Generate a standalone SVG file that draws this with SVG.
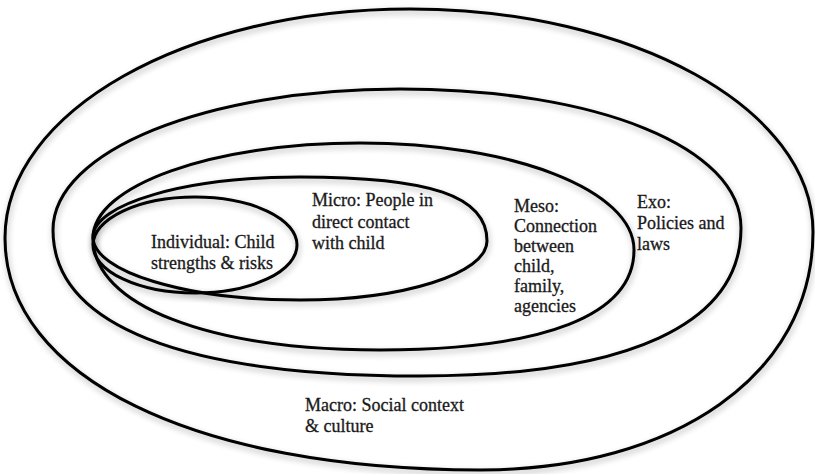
<svg xmlns="http://www.w3.org/2000/svg" width="815" height="474" viewBox="0 0 815 474">
  <defs>
    <filter id="sh" x="-10%" y="-10%" width="120%" height="120%">
      <feGaussianBlur in="SourceAlpha" stdDeviation="3" result="b"/>
      <feOffset in="b" dx="1" dy="3" result="o"/>
      <feComponentTransfer in="o" result="s"><feFuncA type="linear" slope="0.3"/></feComponentTransfer>
      <feMerge><feMergeNode in="s"/><feMergeNode in="SourceGraphic"/></feMerge>
    </filter>
  </defs>
  <style>
    .ring { fill: none; stroke: #000; stroke-width: 3; filter: url(#sh); }
    .lbl { font-family: "Liberation Serif", "Times New Roman", serif; font-size: 18px; fill: #1a1a1a; stroke: #1a1a1a; stroke-width: 0.3; }
  </style>
  <rect width="815" height="474" fill="#fff"/>
  <g id="macro">
    <path class="ring" d="M5,238 C5,111.5 186.3,9 410,9 C632.6,9 813,108.8 813,232 C813,374.2 675.8,470 480,470 C195,470 5,377.2 5,238 Z"/>
    <text class="lbl" x="305" y="411">Macro: Social context</text>
    <text class="lbl" x="305" y="432">&amp; culture</text>
  </g>
  <g id="exo">
    <path class="ring" d="M53,230 C53,151 205.7,89 400,89 C597.8,89 741,147.4 741,228 C741,324.2 628.7,376 420,376 C181.5,376 53,324.9 53,230 Z"/>
    <text class="lbl" x="637" y="208">Exo:</text>
    <text class="lbl" x="637" y="229">Policies and</text>
    <text class="lbl" x="637" y="250">laws</text>
  </g>
  <g id="meso">
    <path class="ring" d="M93,238 C93,185.5 212.5,143 360,143 C513.4,143 634,190.1 634,250 C634,315 545.1,350 380,350 C207.8,350 93,305.2 93,238 Z"/>
    <text class="lbl" x="514" y="212">Meso:</text>
    <text class="lbl" x="514" y="232">Connection</text>
    <text class="lbl" x="514" y="252">between</text>
    <text class="lbl" x="514" y="272">child,</text>
    <text class="lbl" x="514" y="292">family,</text>
    <text class="lbl" x="514" y="312">agencies</text>
  </g>
  <g id="micro">
    <path class="ring" d="M93,237 C93,203.9 185.7,177 300,177 C430.9,177 487,196.2 487,241 C487,273.6 403.3,300 300,300 C185.7,300 93,271.8 93,237 Z"/>
    <text class="lbl" x="312" y="206">Micro: People in</text>
    <text class="lbl" x="312" y="228">direct contact</text>
    <text class="lbl" x="312" y="249">with child</text>
  </g>
  <g id="individual">
    <ellipse class="ring" cx="195" cy="245" rx="102" ry="48"/>
    <text class="lbl" x="151" y="248">Individual: Child</text>
    <text class="lbl" x="151" y="269">strengths &amp; risks</text>
  </g>
  <g id="connectors"/>
</svg>
